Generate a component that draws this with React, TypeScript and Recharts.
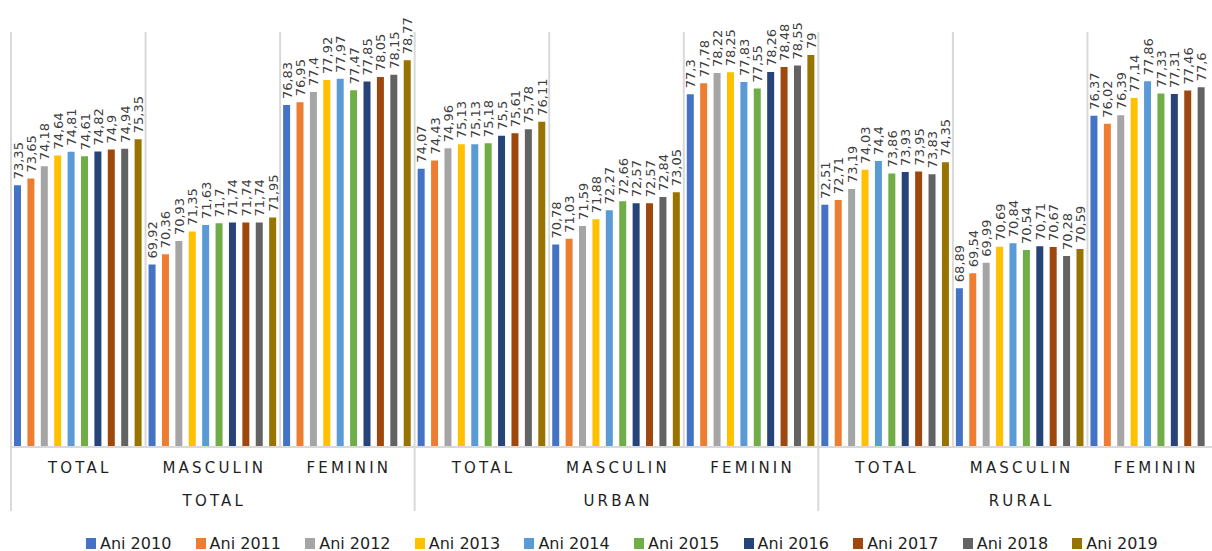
import { Bar, BarChart, CartesianGrid, LabelList, Legend, XAxis, YAxis } from "recharts"

// Speranța de viață: categorii și medii
const SUBCATEGORIES = ["TOTAL", "MASCULIN", "FEMININ", "TOTAL", "MASCULIN", "FEMININ", "TOTAL", "MASCULIN", "FEMININ"]
const GROUPS = ["TOTAL", "TOTAL", "TOTAL", "URBAN", "URBAN", "URBAN", "RURAL", "RURAL", "RURAL"]

const ani2010 = [73.35, 69.92, 76.83, 74.07, 70.78, 77.3, 72.51, 68.89, 76.37]
const ani2011 = [73.65, 70.36, 76.95, 74.43, 71.03, 77.78, 72.71, 69.54, 76.02]
const ani2012 = [74.18, 70.93, 77.4, 74.96, 71.59, 78.22, 73.19, 69.99, 76.39]
const ani2013 = [74.64, 71.35, 77.92, 75.13, 71.88, 78.25, 74.03, 70.69, 77.14]
const ani2014 = [74.81, 71.63, 77.97, 75.13, 72.27, 77.83, 74.4, 70.84, 77.86]
const ani2015 = [74.61, 71.7, 77.47, 75.18, 72.66, 77.55, 73.86, 70.54, 77.33]
const ani2016 = [74.82, 71.74, 77.85, 75.5, 72.57, 78.26, 73.93, 70.71, 77.31]
const ani2017 = [74.9, 71.74, 78.05, 75.61, 72.57, 78.48, 73.95, 70.67, 77.46]
const ani2018 = [74.94, 71.74, 78.15, 75.78, 72.84, 78.55, 73.83, 70.28, 77.6]
// ultima valoare nu se vede in imagine (taiata)
const ani2019 = [75.35, 71.95, 78.77, 76.11, 73.05, 79, 74.35, 70.59, null]

const SERIES = [
  { name: "Ani 2010", values: ani2010, color: "#4472C4" },
  { name: "Ani 2011", values: ani2011, color: "#ED7D31" },
  { name: "Ani 2012", values: ani2012, color: "#A5A5A5" },
  { name: "Ani 2013", values: ani2013, color: "#FFC000" },
  { name: "Ani 2014", values: ani2014, color: "#5B9BD5" },
  { name: "Ani 2015", values: ani2015, color: "#70AD47" },
  { name: "Ani 2016", values: ani2016, color: "#264478" },
  { name: "Ani 2017", values: ani2017, color: "#9E480E" },
  { name: "Ani 2018", values: ani2018, color: "#636363" },
  { name: "Ani 2019", values: ani2019, color: "#997300" },
]

const data = SUBCATEGORIES.map((sub, i) => {
  const row: Record<string, any> = { sub, group: GROUPS[i] }
  SERIES.forEach((s) => (row[s.name] = s.values[i]))
  return row
})

const FONT = "'DejaVu Sans', Verdana, sans-serif"
const CHART_W = 1214
const CHART_H = 543
const N = SUBCATEGORIES.length

const fmt = (v: number) => String(v).replace(".", ",")

const ValueLabel = (props: any) => {
  const { x, y, width, value } = props
  if (value == null) return null
  return (
    <text
      transform={`translate(${x + width / 2 + 0.5}, ${y - 6}) rotate(-90)`}
      textAnchor="start"
      dominantBaseline="central"
      fontSize={13}
      fontFamily={FONT}
      fill="#404040"
    >
      {fmt(value)}
    </text>
  )
}

const SubTick = (props: any) => {
  const { x, y, payload } = props
  return (
    <text x={x + 1.5} y={y + 26} textAnchor="middle" fontSize={15} fontFamily={FONT} fill="#1f1f1f" letterSpacing={3.2}>
      {payload.value}
    </text>
  )
}

const GroupTick = (props: any) => {
  const { x, y, payload } = props
  const band = (CHART_W - 3) / N
  const idx = payload.index
  return (
    <g>
      {idx % 3 === 0 && (
        <line x1={x - band / 2} x2={x - band / 2} y1={y - 33} y2={y + 31} stroke="#d9d9d9" strokeWidth={2} />
      )}
      {idx % 3 === 1 && (
        <text x={x + 1.5} y={y + 26} textAnchor="middle" fontSize={15} fontFamily={FONT} fill="#1f1f1f" letterSpacing={3.2}>
          {payload.value}
        </text>
      )}
    </g>
  )
}

const LegendContent = () => (
  <div style={{ display: "flex", paddingLeft: 78, paddingTop: 23, fontFamily: FONT, fontSize: 16, color: "#1f1f1f" }}>
    {SERIES.map((s) => (
      <div key={s.name} style={{ width: 109.6, display: "flex", alignItems: "center", height: 16, whiteSpace: "nowrap" }}>
        <span style={{ width: 10, height: 11, background: s.color, marginRight: 4, display: "inline-block" }} />
        <span>{s.name}</span>
      </div>
    ))}
  </div>
)

export default function App() {
  return (
    <div style={{ position: "absolute", left: 8, top: 8, width: 1204, height: CHART_H, overflow: "hidden", background: "#fff" }}>
      <BarChart
        width={CHART_W}
        height={CHART_H}
        data={data}
        margin={{ top: 24, right: 0, bottom: 0, left: 3 }}
        barSize={7}
        barGap={6.4}
      >
        <CartesianGrid
          horizontal={false}
          stroke="#d9d9d9"
          strokeWidth={2}
          verticalCoordinatesGenerator={({ offset }: any) =>
            Array.from({ length: N + 1 }, (_, i) => offset.left + (i * offset.width) / N)
          }
        />
        <XAxis
          dataKey="sub"
          height={33}
          tickLine={false}
          tickSize={0}
          tickMargin={0}
          axisLine={{ stroke: "#d9d9d9", strokeWidth: 2 }}
          tick={<SubTick />}
          interval={0}
        />
        <XAxis
          xAxisId="grp"
          dataKey="group"
          height={32}
          tickLine={false}
          tickSize={0}
          tickMargin={0}
          axisLine={false}
          tick={<GroupTick />}
          interval={0}
        />
        <YAxis hide domain={[62, 80]} allowDataOverflow />
        <Legend
          verticalAlign="bottom"
          height={39}
          wrapperStyle={{ left: 0, width: CHART_W }}
          content={<LegendContent />}
        />
        {SERIES.map((s) => (
          <Bar key={s.name} dataKey={s.name} fill={s.color} isAnimationActive={false}>
            <LabelList dataKey={s.name} content={<ValueLabel />} />
          </Bar>
        ))}
      </BarChart>
    </div>
  )
}
